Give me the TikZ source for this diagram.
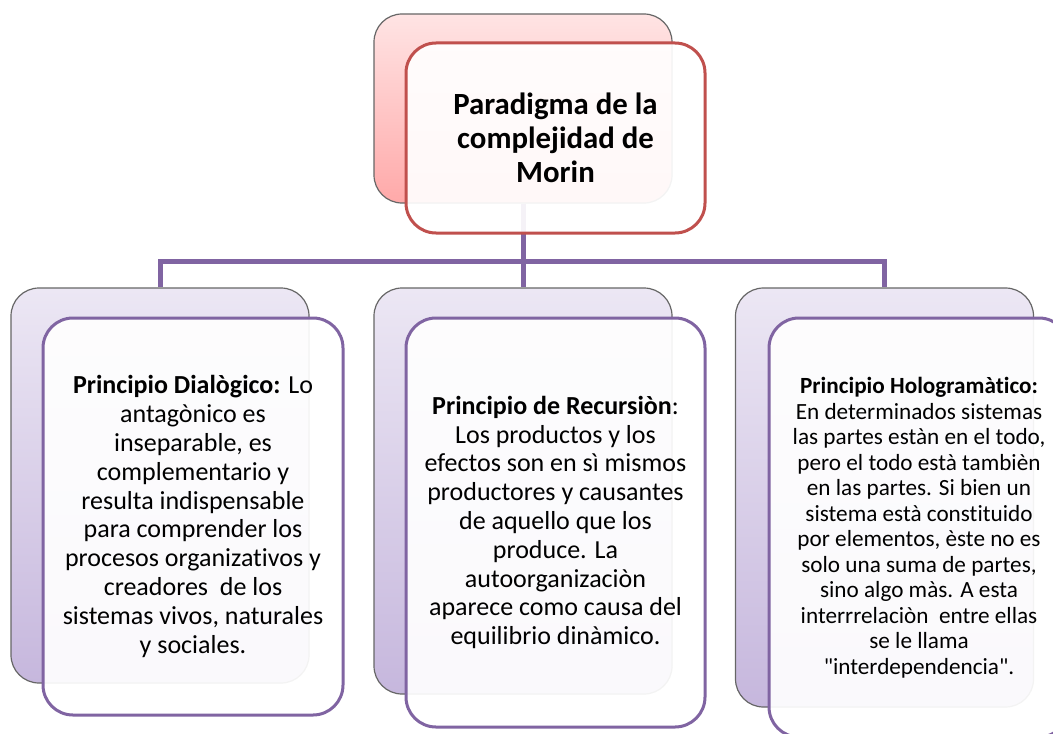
\documentclass[tikz,border=0pt]{standalone}
\usepackage{fontspec}
\setmainfont[Ligatures={NoCommon,TeXOff}]{Carlito}
\definecolor{morinpurple}{HTML}{8064A2}
\definecolor{morinred}{HTML}{C0504D}
\definecolor{lavtop}{HTML}{ECE7F4}
\definecolor{lavbot}{HTML}{C6B7DD}
\definecolor{pinktop}{HTML}{FFE4E4}
\definecolor{pinkbot}{HTML}{FFA9A9}
\begin{document}
\begin{tikzpicture}
[x=0.5pt,y=-0.5pt,
 backbox/.style={rounded corners=14pt, draw=gray!80!black, line width=0.6pt,
   top color=lavtop, bottom color=lavbot, minimum width=149pt, inner sep=0pt},
 frontbox/.style={rounded corners=15pt, draw=morinpurple, line width=1.5pt,
   fill=white, fill opacity=0.92, text opacity=1, minimum width=150pt,
   align=center, inner sep=0pt, font=\fontsize{13pt}{14.4pt}\selectfont},
 link/.style={draw=morinpurple, line width=2.5pt}]
\path[use as bounding box, clip] (0,0) rectangle (1053,733);
\coordinate (hub) at (523,261);
%% back boxes
\node[backbox, top color=pinktop, bottom color=pinkbot, minimum height=94.5pt]
  (topback) at (523,108.5) {};
\foreach \b/\x/\y/\h in {dialback/160/485.5/197.5, recback/523/491/203,
  holoback/884.5/497.5/209.5}
{
  \node[backbox, minimum height=\h pt] (\b) at (\x,\y) {};
}
%% connectors
\foreach \b in {dialback, recback, holoback}
{
  \draw[link] (topback.south) -- (hub) -| (\b.north);
}
%% front boxes
\node[frontbox, draw=morinred, minimum width=149.5pt, minimum height=95pt,
  font=\fontsize{15.4pt}{17pt}\selectfont\bfseries]
  (paradigm) at (555.5,138) {Paradigma de la\\complejidad de\\Morin};
\node[frontbox, minimum height=198.5pt] (dialogic) at (193,516.5)
  {{\bfseries Principio Dialògico:} Lo\\antagònico es\\inseparable, es\\
   complementario y\\resulta indispensable\\para comprender los\\
   procesos organizativos y\\creadores\ \ de los\\sistemas vivos, naturales\\
   y sociales.};
\node[frontbox, minimum width=149.5pt, minimum height=204.5pt] (recursion)
  at (555.5,522.5)
  {{\bfseries Principio de Recursiòn}:\\Los productos y los\\
   efectos son en sì mismos\\productores y causantes\\de aquello que los\\
   produce. La\\autoorganizaciòn\\aparece como causa del\\equilibrio dinàmico.};
\node[frontbox, minimum height=209.5pt,
  font=\fontsize{11.6pt}{12.75pt}\selectfont] (hologram) at (919,527.5)
  {{\bfseries Principio Hologramàtico:}\\En determinados sistemas\\
   las partes estàn en el todo,\\pero el todo està tambièn\\
   en las partes. Si bien un\\sistema està constituido\\
   por elementos, èste no es\\solo una suma de partes,\\sino algo màs. A esta\\
   interrrelaciòn\ \ entre ellas\\se le llama\\
   "interdependencia".};
\end{tikzpicture}
\end{document}
